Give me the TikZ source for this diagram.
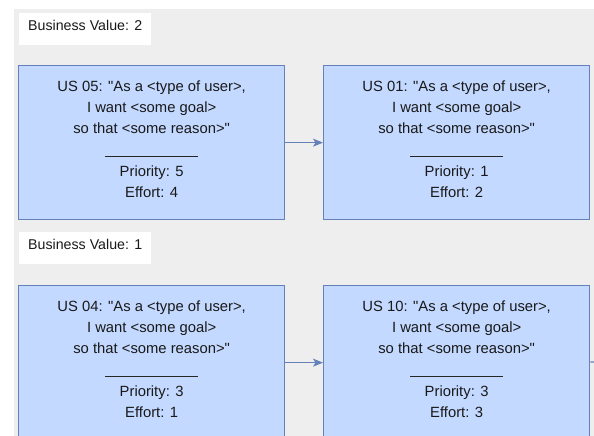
\documentclass[tikz,border=0pt]{standalone}
\usepackage{fontspec}
\setmainfont{Liberation Sans}[Ligatures=TeXOff]
\usetikzlibrary{calc,arrows.meta}
\definecolor{storyfill}{HTML}{C3D9FF}
\definecolor{storyline}{HTML}{6482B9}
\definecolor{lanebg}{HTML}{EEEEEE}
\tikzset{
  x=1pt,y=1pt,
  story/.style={draw=storyline, fill=storyfill, line width=1.3pt, minimum width=266pt, minimum height=154pt, inner sep=0pt},
  txt/.style={anchor=base, inner sep=0pt, font=\fontsize{14.8}{18}\selectfont, text=black!90},
  valuelabel/.style={fill=white, minimum width=132pt, minimum height=32pt, inner sep=0pt, text height=10pt, text depth=6.6pt, font=\fontsize{14.2}{17}\selectfont, text=black!90},
  rulestyle/.style={draw=black!85, line width=1pt},
  flow/.style={draw=storyline, line width=1.2pt, -{Stealth[length=10pt,width=8pt,inset=2.5pt]}},
  flowline/.style={draw=storyline, line width=1.2pt}
}
\newcommand\userstory[6]{%
  \node[story, anchor=north west] (#1) at (#2,-#3) {};
  \node[txt] (#1-a) at ($(#1.north)+(0,-26.7)$) {US #4: "As a <type of user>,};
  \node[txt] (#1-b) at ($(#1.north)+(0,-47.5)$) {I want <some goal>};
  \node[txt] (#1-c) at ($(#1.north)+(0,-68.3)$) {so that <some reason>"};
  \draw[rulestyle] ($(#1.north)+(-46.5,-91)$) -- ($(#1.north)+(46.5,-91)$);
  \node[txt] (#1-p) at ($(#1.north)+(0,-111.7)$) {Priority: #5};
  \node[txt] (#1-e) at ($(#1.north)+(0,-132.7)$) {Effort: #6};
}
\begin{document}
\begin{tikzpicture}
\useasboundingbox (0,0) rectangle (594,-436);
\clip (0,0) rectangle (594,-436);
\fill[white] (0,0) rectangle (594,-436);
\fill[lanebg] (14,-9) rectangle (594,-436);
\node[valuelabel, anchor=north west] (bv2) at (19,-13) {Business Value: 2};
\node[valuelabel, anchor=north west] (bv1) at (19,-232) {Business Value: 1};
\userstory{us05}{18}{65}{05}{5}{4}
\userstory{us01}{323}{65}{01}{1}{2}
\userstory{us04}{18}{285}{04}{3}{1}
\userstory{us10}{323}{285}{10}{3}{3}
\draw[flow] (us05) -- (us01);
\draw[flow] (us04) -- (us10);
\coordinate (outright) at (600,-362);
\draw[flowline] (us10) -- (outright);
\end{tikzpicture}
\end{document}
